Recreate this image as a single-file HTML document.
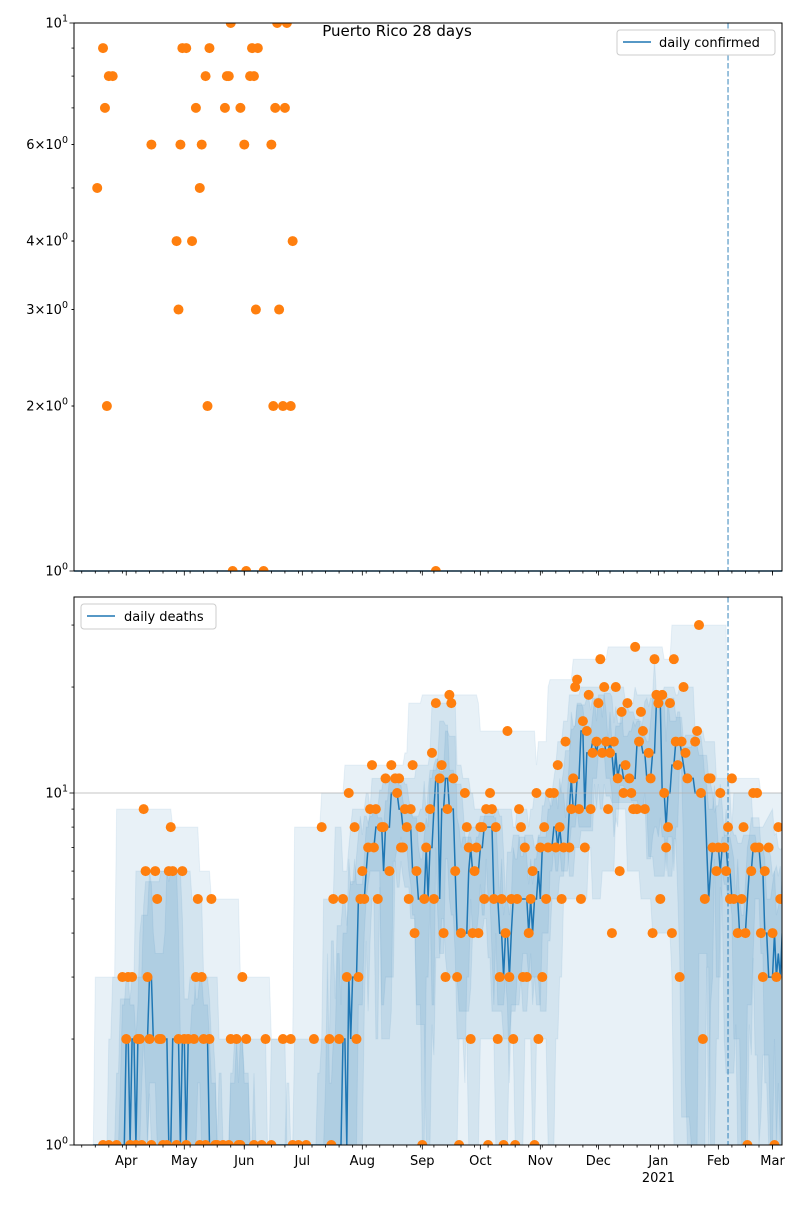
<!DOCTYPE html>
<html><head><meta charset="utf-8"><style>
body{margin:0;background:#fff}
svg text{font-family:"DejaVu Sans","Liberation Sans",sans-serif;fill:#000}
</style></head><body>
<svg id="chart" width="800" height="1200" xmlns="http://www.w3.org/2000/svg">
<rect width="800" height="1200" fill="#fff"/>
<text x="397" y="36" font-size="15" text-anchor="middle">Puerto Rico 28 days</text>
<g id="top"></g>
<g id="bot"></g>
</svg>
<script>
const confDays=[12,15,16,17,18,20,40,53,54,55,56,58,61,63,65,66,68,69,70,78,79,80,81,82,86,88,89,91,92,93,94,95,98,102,103,104,105,106,108,109,110,112,113,187];
const confVals=[5,9,7,2,8,8,6,4,3,6,9,9,4,7,5,6,8,2,9,7,8,8,10,1,7,6,1,8,9,8,3,9,1,6,2,7,10,3,2,7,10,2,4,1];
const deathDays=[15,18,22,25,27,28,29,30,32,33,34,35,36,37,38,39,40,42,43,44,45,46,48,49,50,51,53,54,56,57,58,59,62,63,64,65,66,67,68,70,71,73,74,77,80,81,84,85,86,87,89,93,97,99,102,108,112,113,116,
120,124,128,132,133,134,137,139,141,142,145,146,147,148,149,150,152,153,154,155,156,157,159,160,161,163,164,166,167,168,169,170,171,172,173,174,175,176,177,179,180,181,182,184,185,186,187,189,190,191,192,193,194,195,196,197,198,199,200,202,203,204,205,206,207,208,209,210,211,212,213,214,215,216,217,218,219,220,221,222,223,224,225,226,227,228,229,230,231,232,233,234,
235,236,237,238,239,240,241,242,243,244,245,246,248,249,250,251,252,253,254,256,257,258,259,260,261,262,263,264,265,266,267,268,270,271,272,273,274,275,276,277,278,279,280,281,282,283,284,285,286,287,288,289,290,291,292,293,294,295,297,298,299,300,301,302,303,304,305,306,307,308,309,310,311,312,313,314,315,316,317,321,322,323,324,325,326,328,329,330,332,333,334,336,337,338,339,340,341,343,345,346,347,348,350,351,352,353,354,355,356,357,359,361,362,363,364,365];
const deathVals=[1,1,1,3,2,3,1,3,1,2,2,1,9,6,3,2,1,6,5,2,2,1,1,6,8,6,1,2,6,2,1,2,2,3,5,1,3,2,1,2,5,1,1,1,1,2,2,1,1,3,2,1,1,2,1,2,2,1,1,
1,2,8,2,1,5,2,5,3,10,8,2,3,5,6,5,7,9,12,7,9,5,8,8,11,6,12,11,10,11,7,7,9,8,5,9,12,4,6,8,1,5,7,9,13,5,18,11,12,4,3,9,19,18,11,6,3,1,4,10,8,7,2,4,6,7,4,8,8,5,9,1,10,9,5,8,2,3,5,1,4,15,3,5,2,1,5,9,8,3,7,3,
4,5,6,1,10,2,7,3,8,5,7,10,10,7,12,8,5,7,14,7,9,11,20,21,9,5,16,7,15,19,9,13,14,18,24,13,20,14,9,13,4,14,20,11,6,17,10,12,18,11,10,9,26,9,14,17,15,9,13,11,4,24,19,18,5,19,10,7,8,18,4,24,14,12,3,14,20,13,11,14,15,30,10,2,5,11,11,7,6,7,10,7,6,8,5,11,5,4,5,8,4,1,6,10,7,10,7,4,3,6,7,4,1,3,8,5];
const monthLabels=["Apr","May","Jun","Jul","Aug","Sep","Oct","Nov","Dec","Jan","Feb","Mar"];
const monthDays=[27,57,88,118,149,180,210,241,271,302,333,361];
const NS="http://www.w3.org/2000/svg";
const X0=74,X1=782;
function xd(d){return 74+d*1.935;}
function mk(parent,tag,attrs){const e=document.createElementNS(NS,tag);for(const k in attrs)e.setAttribute(k,attrs[k]);parent.appendChild(e);return e;}
function panel(g,top,bot,vmax){
  const ylog=v=>bot-(Math.log10(Math.max(v,1e-9)))/Math.log10(vmax)*(bot-top);
  return ylog;
}
const topG=document.getElementById('top'),botG=document.getElementById('bot');
// clip paths
const defs=mk(document.getElementById('chart'),'defs',{});
const c1=mk(defs,'clipPath',{id:'c1'});mk(c1,'rect',{x:X0,y:23,width:X1-X0,height:548});
const c2=mk(defs,'clipPath',{id:'c2'});mk(c2,'rect',{x:X0,y:597,width:X1-X0,height:548});
const yT=panel(topG,23,571,10);
const yB=panel(botG,597,1145,Math.pow(10,548/352));
function xAxis(g,yb,labels){
  for(let d=4;d<367;d+=7){const x=xd(d);if(x<X0||x>X1)continue;
    const t=mk(g,'line',{x1:x,x2:x,y1:yb,y2:yb+2.5,stroke:'#000','stroke-width':0.8});
    }
  monthDays.forEach((d,i)=>{const x=xd(d);
    const t=mk(g,'line',{x1:x,x2:x,y1:yb,y2:yb+4.5,stroke:'#000','stroke-width':0.8});
    
    if(labels){const tx=mk(g,'text',{x:x,y:yb+20,'font-size':13,'text-anchor':'middle'});tx.textContent=monthLabels[i];
      }
  });
  if(labels){const tx=mk(g,'text',{x:xd(302),y:yb+37,'font-size':13,'text-anchor':'middle'});tx.textContent='2021';
    }
}
function yLabel(g,y,mant,exp){
  const t=mk(g,'text',{x:68,y:y+4.5,'font-size':13,'text-anchor':'end'});
  
  t.innerHTML=(mant?mant+'×':'')+'10<tspan dy="-6" font-size="9.5">'+exp+'</tspan>';
  const l=mk(g,'line',{x1:X0,x2:X0-(mant===null?4.5:2.5),y1:y,y2:y,stroke:'#000','stroke-width':0.8});
  
}
// ---- TOP PANEL ----
[2,3,4,5,6,7,8,9].forEach(v=>{const y=yT(v);const l=mk(topG,'line',{x1:X0,x2:X0-2.5,y1:y,y2:y,stroke:'#000','stroke-width':0.8});
  });
yLabel(topG,yT(10),null,1);yLabel(topG,yT(1),null,0);
[[2,'2'],[3,'3'],[4,'4'],[6,'6']].forEach(([v,m])=>yLabel(topG,yT(v),m,0));
const tline=mk(topG,'line',{x1:X0,x2:X1,y1:yT(1),y2:yT(1),stroke:'#1f77b4','stroke-width':1.5});

const tdash=mk(topG,'line',{x1:xd(338),x2:xd(338),y1:23,y2:571,stroke:'#1f77b4','stroke-width':1.5,'stroke-dasharray':'5.5,2.5','opacity':0.6});

const tpts=mk(topG,'g',{'clip-path':'url(#c1)'});
confDays.forEach((d,i)=>{const c=mk(tpts,'circle',{cx:xd(d),cy:yT(confVals[i]),r:5,fill:'#ff7f0e'});
  });
const tframe=mk(topG,'rect',{x:X0,y:23,width:X1-X0,height:548,fill:'none',stroke:'#000','stroke-width':1});

xAxis(topG,571,false);
const lg1=mk(topG,'g',{});
mk(lg1,'rect',{x:617,y:30,width:158,height:25,rx:3,fill:'#fff',stroke:'#ccc'});
mk(lg1,'line',{x1:623,x2:651,y1:42,y2:42,stroke:'#1f77b4','stroke-width':1.5});
const lt1=mk(lg1,'text',{x:659,y:47,'font-size':13});lt1.textContent='daily confirmed';
// ---- BOTTOM PANEL ----
const N=367;const daily=new Array(N).fill(0);
deathDays.forEach((d,i)=>{daily[d]=deathVals[i];});
function win(d,h){const a=[];for(let k=d-h;k<=d+h;k++){if(k>=0&&k<N)a.push(daily[k]);}return a.sort((p,q)=>p-q);}
function q(a,p){const i=(a.length-1)*p;const lo=Math.floor(i),hi=Math.ceil(i);return a[lo]+(a[hi]-a[lo])*(i-lo);}
const bands=[[14,0,1,0.10],[10,0.1,0.9,0.10],[6,0.2,0.8,0.10],[3,0.25,0.75,0.10]];
const bg=mk(botG,'g',{'clip-path':'url(#c2)'});
const clampY=v=>yB(Math.max(v,1));
bands.forEach(([h,pl,ph,op],bi)=>{
  let up=[],lo=[];
  for(let d=10;d<N;d++){const a=win(d,h);up.push([xd(d),clampY(q(a,ph))]);lo.push([xd(d),clampY(q(a,pl))]);}
  const pts=up.concat(lo.reverse()).map(p=>p[0].toFixed(1)+','+p[1].toFixed(1)).join(' ');
  const pg=mk(bg,'polygon',{points:pts,fill:'#1f77b4','fill-opacity':op,stroke:'#1f77b4','stroke-opacity':0.08});
  
});
const grid=mk(botG,'line',{x1:X0,x2:X1,y1:yB(10),y2:yB(10),stroke:'#b0b0b0','stroke-width':0.8});

let lp='';for(let d=10;d<N;d++){const a=win(d,3);lp+=(d===10?'M':'L')+xd(d).toFixed(1)+','+clampY(q(a,0.5)).toFixed(1);}
const dl=mk(bg,'path',{d:lp,fill:'none',stroke:'#1f77b4','stroke-width':1.5});

const bdash=mk(botG,'line',{x1:xd(338),x2:xd(338),y1:597,y2:1145,stroke:'#1f77b4','stroke-width':1.5,'stroke-dasharray':'5.5,2.5','opacity':0.6});

const bp=mk(botG,'g',{'clip-path':'url(#c2)'});
deathDays.forEach((d,i)=>{const c=mk(bp,'circle',{cx:xd(d),cy:yB(deathVals[i]),r:5,fill:'#ff7f0e'});
  });
[2,3,4,5,6,7,8,9,20,30].forEach(v=>{const y=yB(v);const l=mk(botG,'line',{x1:X0,x2:X0-2.5,y1:y,y2:y,stroke:'#000','stroke-width':0.8});
  });
yLabel(botG,yB(10),null,1);yLabel(botG,yB(1),null,0);
const bframe=mk(botG,'rect',{x:X0,y:597,width:X1-X0,height:548,fill:'none',stroke:'#000','stroke-width':1});

xAxis(botG,1145,true);
const lg2=mk(botG,'g',{});
mk(lg2,'rect',{x:81,y:604,width:135,height:25,rx:3,fill:'#fff',stroke:'#ccc'});
mk(lg2,'line',{x1:87,x2:115,y1:616,y2:616,stroke:'#1f77b4','stroke-width':1.5});
const lt2=mk(lg2,'text',{x:124,y:621,'font-size':13});lt2.textContent='daily deaths';
</script>
</body></html>
